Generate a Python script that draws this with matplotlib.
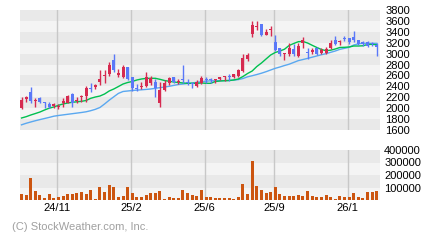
import numpy as np
import matplotlib
matplotlib.use('Agg')
import matplotlib.pyplot as plt

plt.rcParams['font.family'] = ['Liberation Sans', 'DejaVu Sans']

# weekly candles, oldest first
opens = [2010, 2160, 2300, 2130, 2180, 2115, 2070, 2040, 2030, 2090,
         2100, 2260, 2130, 2200, 2230, 2375, 2395, 2475, 2595, 2620,
         2885, 2615, 2580, 2750, 2565, 2365, 2380, 2415, 2455, 2485,
         2100, 2335, 2455, 2565, 2475, 2535, 2485, 2455, 2415, 2470,
         2530, 2530, 2515, 2530, 2570, 2585, 2580, 2590, 2690, 2895,
         3365, 3490, 3540, 3350, 3430, 3210, 3095, 2995, 2995, 3085,
         2965, 3190, 3030, 3035, 3110, 3005, 3020, 3095, 3250, 3220,
         3280, 3280, 3310, 3250, 3210, 3220, 3190, 3160]
highs = [2200, 2225, 2395, 2195, 2210, 2115, 2120, 2100, 2075, 2180,
         2240, 2270, 2200, 2240, 2405, 2455, 2435, 2700, 2700, 2855,
         2995, 2710, 2790, 2750, 2565, 2445, 2475, 2655, 2595, 2530,
         2485, 2515, 2580, 2565, 2530, 2790, 2530, 2470, 2515, 2590,
         2580, 2560, 2535, 2580, 2590, 2625, 2625, 2710, 2995, 3005,
         3590, 3590, 3550, 3445, 3510, 3340, 3100, 3020, 3190, 3175,
         3190, 3310, 3100, 3110, 3130, 3095, 3115, 3250, 3325, 3250,
         3325, 3285, 3415, 3255, 3240, 3240, 3220, 3190]
lows = [1985, 2120, 2100, 2030, 2090, 2010, 2000, 2000, 1985, 2030,
        2090, 2030, 2090, 2120, 2120, 2305, 2350, 2425, 2470, 2590,
        2670, 2580, 2545, 2515, 2320, 2320, 2345, 2395, 2425, 2210,
        2030, 2315, 2425, 2455, 2445, 2470, 2425, 2365, 2395, 2445,
        2455, 2455, 2470, 2515, 2505, 2505, 2545, 2580, 2670, 2870,
        3300, 3425, 3330, 3340, 3320, 3040, 2960, 2885, 2965, 2960,
        2945, 3095, 2895, 2995, 2975, 2995, 2995, 3080, 3160, 3165,
        3230, 3170, 3205, 3160, 3140, 3130, 3140, 2955]
closes = [2150, 2200, 2140, 2150, 2115, 2095, 2030, 2075, 2045, 2130,
          2230, 2100, 2150, 2225, 2375, 2360, 2425, 2535, 2610, 2790,
          2700, 2640, 2750, 2535, 2375, 2345, 2405, 2580, 2545, 2365,
          2335, 2455, 2545, 2485, 2505, 2515, 2470, 2440, 2485, 2545,
          2510, 2510, 2535, 2565, 2590, 2565, 2625, 2700, 2915, 2980,
          3525, 3510, 3350, 3400, 3440, 3070, 2990, 3005, 3095, 2990,
          3140, 3250, 3005, 3065, 2995, 3065, 3080, 3200, 3175, 3240,
          3260, 3205, 3250, 3180, 3180, 3145, 3170, 3115]
volumes = [48000, 40000, 176000, 72000, 40000, 16000, 48000, 16000, 24000, 32000,
           48000, 48000, 56000, 64000, 48000, 80000, 8000, 104000, 64000, 120000,
           104000, 24000, 32000, 104000, 56000, 24000, 24000, 40000, 56000, 56000,
           72000, 8000, 24000, 16000, 16000, 80000, 56000, 40000, 32000, 80000,
           24000, 24000, 16000, 16000, 16000, 16000, 8000, 24000, 128000, 48000,
           312000, 112000, 80000, 56000, 64000, 104000, 48000, 32000, 32000, 32000,
           40000, 32000, 72000, 32000, 24000, 24000, 40000, 24000, 8000, 32000,
           24000, 24000, 56000, 24000, 16000, 64000, 64000, 72000]

# moving averages as drawn on the chart
ma_short = [1820, 1844, 1875, 1902, 1930, 1967, 2000, 2022, 2053, 2077,
            2095, 2108, 2117, 2126, 2141, 2181, 2205, 2223, 2260, 2315,
            2352, 2397, 2443, 2471, 2489, 2517, 2535, 2546, 2548, 2548,
            2529, 2507, 2493, 2480, 2471, 2462, 2456, 2456, 2456, 2462,
            2456, 2456, 2489, 2498, 2504, 2507, 2517, 2535, 2581, 2636,
            2682, 2764, 2828, 2902, 2975, 3021, 3048, 3081, 3149, 3186,
            3219, 3223, 3195, 3153, 3113, 3076, 3054, 3063, 3085, 3113,
            3116, 3122, 3140, 3140, 3144, 3168, 3171, 3162]
ma_long = [1695, 1723, 1747, 1770, 1791, 1811, 1831, 1853, 1866, 1877,
           1888, 1899, 1910, 1921, 1934, 1954, 1979, 2013, 2077, 2146,
           2209, 2271, 2306, 2315, 2324, 2331, 2337, 2344, 2352, 2364,
           2377, 2388, 2401, 2418, 2434, 2443, 2454, 2463, 2474, 2485,
           2495, 2502, 2504, 2504, 2504, 2509, 2515, 2524, 2544, 2575,
           2595, 2617, 2641, 2669, 2700, 2731, 2755, 2782, 2806, 2839,
           2872, 2892, 2913, 2935, 2957, 2980, 2999, 3024, 3048, 3079,
           3097, 3116, 3158, 3180, 3189, 3189, 3189, 3189]

month_labels = ['24/11', '25/2', '25/6', '25/9', '26/1']
month_pos = [7.7, 23.7, 39.7, 54.7, 70.7]   # in week units

UP = '#d62a50'
DOWN = '#5a78f8'
VOL = '#cc5510'
BAND_DARK = '#e9e9e9'
BAND_LIGHT = '#f4f4f4'
GRID = '#c8c8c8'

W, H = 440, 240
fig = plt.figure(figsize=(W / 100, H / 100), dpi=100)
fig.patch.set_facecolor('white')

ax = fig.add_axes([20 / W, (H - 130) / H, 360 / W, 120 / H])
axv = fig.add_axes([20 / W, (H - 200) / H, 360 / W, 50 / H])

x = np.arange(len(closes))
o = np.array(opens)
c = np.array(closes)
hi = np.array(highs)
lo = np.array(lows)
up = c >= o
colors = np.where(up, UP, DOWN)

xlim = (-0.33, len(closes) - 0.3)

# price panel background bands
levels = list(range(1600, 3801, 200))
for k in range(len(levels) - 1):
    col = BAND_DARK if (len(levels) - 2 - k) % 2 == 0 else BAND_LIGHT
    ax.axhspan(levels[k], levels[k + 1], color=col, lw=0, zorder=0)
for p in month_pos:
    ax.axvline(p, color=GRID, lw=1, zorder=1)

ax.plot(x, ma_long, color='#5aa8f0', lw=1, zorder=2)
ax.plot(x, ma_short, color='#00c050', lw=1, zorder=2)

ax.vlines(x, lo, hi, colors=colors, lw=1, zorder=3)
body_h = np.maximum(np.abs(c - o), 18)
ax.bar(x, body_h, bottom=np.minimum(o, c), width=0.65, color=colors, lw=0, zorder=4)

ax.set_xlim(*xlim)
ax.set_ylim(1600, 3800)
ax.set_yticks(levels)
ax.yaxis.tick_right()
ax.tick_params(axis='y', length=0, pad=4, labelsize=8)
ax.set_xticks([])
for s in ax.spines.values():
    s.set_visible(False)

# volume panel
vlevels = [0, 100000, 200000, 300000, 400000]
for k in range(len(vlevels) - 1):
    col = BAND_LIGHT if k % 2 == 0 else BAND_DARK
    axv.axhspan(vlevels[k], vlevels[k + 1], color=col, lw=0, zorder=0)
for p in month_pos:
    axv.axvline(p, color=GRID, lw=1, zorder=1)
axv.bar(x, volumes, width=0.65, color=VOL, lw=0, zorder=2)
axv.set_xlim(*xlim)
axv.set_ylim(0, 400000)
axv.set_yticks(vlevels[1:])
axv.set_yticklabels([str(v) for v in vlevels[1:]])
axv.yaxis.tick_right()
axv.tick_params(axis='y', length=0, pad=3, labelsize=8)
axv.set_xticks(month_pos)
axv.set_xticklabels(month_labels)
axv.tick_params(axis='x', length=0, pad=2, labelsize=8)
for s in axv.spines.values():
    s.set_visible(False)

fig.text(12 / W, 1 - 227 / H, '(C) StockWeather.com, Inc.', fontsize=8,
         color='#a0a0a0', va='center', ha='left')

fig.savefig('out.png', dpi=100, facecolor='white')
